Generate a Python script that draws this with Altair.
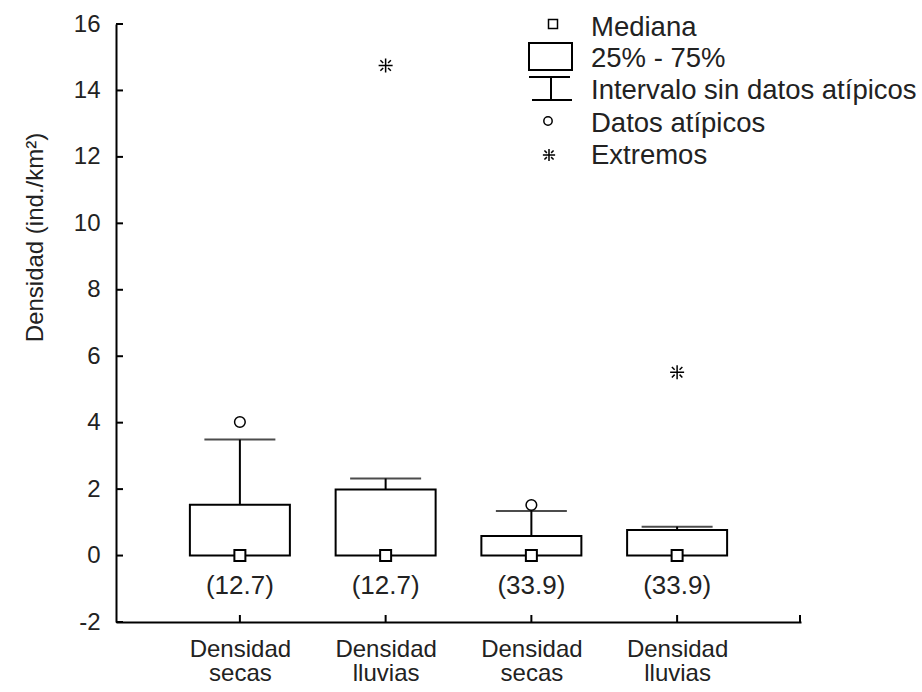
import altair as alt
import pandas as pd

# ---------------- data ----------------
categories = ["Densidad secas", "Densidad lluvias", "Densidad secas ", "Densidad lluvias "]
n_labels = ["(12.7)", "(12.7)", "(33.9)", "(33.9)"]
medians = [0.0, 0.0, 0.0, 0.0]
q1 = [0.0, 0.0, 0.0, 0.0]
q3 = [1.53, 1.99, 0.59, 0.77]
whisker_high = [3.49, 2.32, 1.34, 0.87]

outlier_cats = ["Densidad secas", "Densidad secas "]
outlier_vals = [4.02, 1.52]
extreme_cats = ["Densidad lluvias", "Densidad lluvias "]
extreme_vals = [14.75, 5.52]

y_tick_values = [-2, 0, 2, 4, 6, 8, 10, 12, 14, 16]
legend_labels = ["Mediana", "25% - 75%", "Intervalo sin datos atípicos", "Datos atípicos", "Extremos"]

# ---------------- layout / style ----------------
FONT = "Liberation Sans"
TXT = "#222222"
W, H = 685, 598
ASTER = ("M-1,0L1,0M0,-1L0,1"
         "M-0.75,-0.75L-0.35,-0.35M0.35,0.35L0.75,0.75"
         "M-0.75,0.75L-0.35,0.35M0.35,-0.35L0.75,-0.75")

box_df = pd.DataFrame({"cat": categories, "n": n_labels, "med": medians,
                       "q1": q1, "q3": q3, "hi": whisker_high})
out_df = pd.DataFrame({"cat": outlier_cats, "v": outlier_vals})
ext_df = pd.DataFrame({"cat": extreme_cats, "v": extreme_vals})
tick_df = pd.DataFrame({"v": y_tick_values})

xs = alt.Scale(type="point", padding=0.85)
ys = alt.Scale(domain=[-2, 16], nice=False, zero=False)

X = alt.X("cat:N", sort=categories, scale=xs, title=None,
          axis=alt.Axis(labelExpr="split(trim(datum.label), ' ')", labelLineHeight=24,
                        labelBaseline="top", labelPadding=15, ticks=False, tickSize=0,
                        labelAngle=0))
Xn = alt.X("cat:N", sort=categories, scale=xs)

boxes = alt.Chart(box_df).mark_bar(size=100, fill="white", stroke="black", strokeWidth=2).encode(
    x=X,
    y=alt.Y("q1:Q", scale=ys, title="Densidad (ind./km²)",
            axis=alt.Axis(values=y_tick_values, ticks=False, tickSize=0, labelPadding=16,
                          labelExpr="toString(datum.value)",
                          titleX=-69, titleY=213, titleAngle=270, titleAlign="center",
                          titleBaseline="bottom", grid=False)),
    y2="q3:Q",
)
whisk = alt.Chart(box_df).mark_rule(color="black", strokeWidth=2).encode(
    x=Xn, y=alt.Y("q3:Q", scale=ys), y2="hi:Q")
caps = alt.Chart(box_df).mark_tick(color="black", size=71, thickness=2, orient="horizontal").encode(
    x=Xn, y=alt.Y("hi:Q", scale=ys))
med = alt.Chart(box_df).mark_point(shape="square", size=121, filled=True, fill="white",
                                   stroke="black", strokeWidth=2, opacity=1).encode(
    x=Xn, y=alt.Y("med:Q", scale=ys))
nlab = alt.Chart(box_df).mark_text(dy=30, fontSize=26, font=FONT, color=TXT, baseline="middle").encode(
    x=Xn, y=alt.Y("q1:Q", scale=ys), text="n:N")
outl = alt.Chart(out_df).mark_point(shape="circle", size=113, filled=False, stroke="black",
                                    strokeWidth=1.5, opacity=1).encode(
    x=Xn, y=alt.Y("v:Q", scale=ys))
extr = alt.Chart(ext_df).mark_point(shape=ASTER, size=196, filled=False, stroke="black",
                                    strokeWidth=1.5, opacity=1).encode(
    x=Xn, y=alt.Y("v:Q", scale=ys))

# inward ticks
yticks = alt.Chart(tick_df).mark_rule(color="black", strokeWidth=2).encode(
    x=alt.value(0), x2=alt.value(7), y=alt.Y("v:Q", scale=ys))
xticks = alt.Chart(box_df).mark_rule(color="black", strokeWidth=2).encode(
    x=Xn, y=alt.value(H), y2=alt.value(H - 7))

one = alt.Data(values=[{}])
end_tick = alt.Chart(one).mark_rule(color="black", strokeWidth=2).encode(
    x=alt.value(W - 1), y=alt.value(H), y2=alt.value(H - 7))

# ---------------- legend (drawn manually) ----------------
LX_TXT = 475
row_y = [4, 35, 67, 100, 132]
leg = []
for lab, yy in zip(legend_labels, row_y):
    leg.append(alt.Chart(one).mark_text(align="left", baseline="middle", fontSize=27.5,
                                        font=FONT, color=TXT, text=lab).encode(
        x=alt.value(LX_TXT), y=alt.value(yy)))
leg.append(alt.Chart(one).mark_point(shape="square", size=81, filled=True, fill="white",
                                     stroke="black", strokeWidth=1.5, opacity=1).encode(
    x=alt.value(437), y=alt.value(0)))
leg.append(alt.Chart(one).mark_rect(fill="white", stroke="black", strokeWidth=2).encode(
    x=alt.value(413), x2=alt.value(456), y=alt.value(19), y2=alt.value(46)))
leg.append(alt.Chart(one).mark_rule(color="black", strokeWidth=2).encode(
    x=alt.value(413), x2=alt.value(454), y=alt.value(53)))
leg.append(alt.Chart(one).mark_rule(color="black", strokeWidth=2).encode(
    x=alt.value(435), y=alt.value(53), y2=alt.value(76)))
leg.append(alt.Chart(one).mark_rule(color="black", strokeWidth=2).encode(
    x=alt.value(416), x2=alt.value(456), y=alt.value(76)))
leg.append(alt.Chart(one).mark_point(shape="circle", size=70, filled=False, stroke="black",
                                     strokeWidth=1.5, opacity=1).encode(
    x=alt.value(432), y=alt.value(97)))
leg.append(alt.Chart(one).mark_point(shape=ASTER, size=150, filled=False, stroke="black",
                                     strokeWidth=1.5, opacity=1).encode(
    x=alt.value(433), y=alt.value(131)))

chart = alt.layer(boxes, whisk, caps, med, outl, extr, nlab, yticks, xticks, end_tick, *leg).properties(
    width=W, height=H,
    autosize=alt.AutoSizeParams(type="none"),
    padding={"left": 116, "top": 24, "right": 922 - 116 - W, "bottom": 692 - 24 - H},
    background="white",
).configure_view(stroke=None).configure_axis(
    domainColor="black", domainWidth=2, labelFont=FONT, labelFontSize=24, labelColor=TXT,
    titleFont=FONT, titleFontSize=24, titleFontWeight="normal", titleColor=TXT, grid=False,
)

chart.save("out.html", embed_options={"renderer": "svg", "actions": False})
